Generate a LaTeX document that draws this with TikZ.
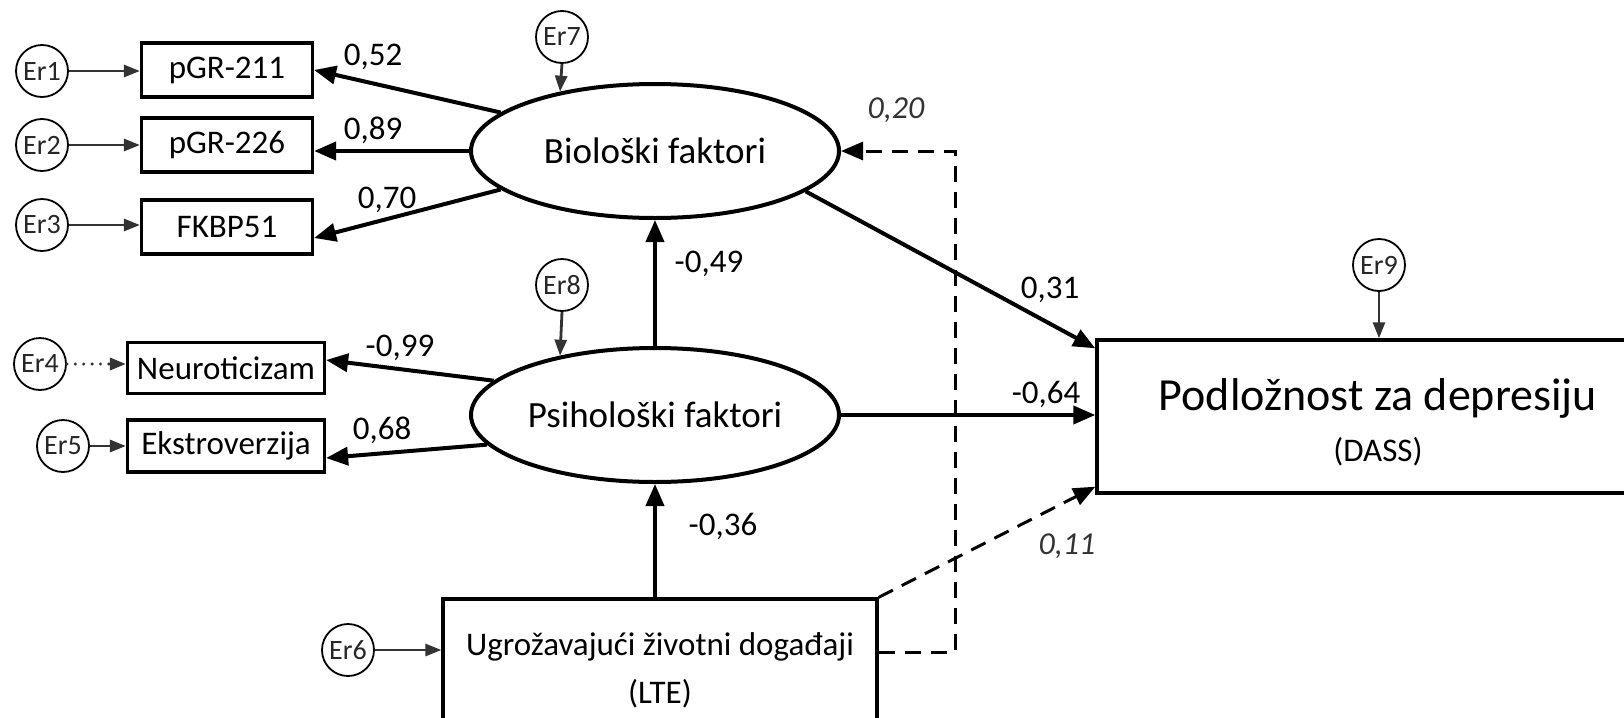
\documentclass[tikz,border=0pt]{standalone}
\usepackage{fontspec}
\setmainfont{Carlito}
\usetikzlibrary{arrows.meta,shapes.geometric}
\begin{document}
\begin{tikzpicture}[x=0.5pt,y=-0.5pt,
  every node/.style={inner sep=0pt},
  box/.style={draw, line width=1.6pt, minimum width=85.5pt, minimum height=27pt, font=\fontsize{16.5}{20}\selectfont},
  lat/.style={draw, ellipse, line width=2pt, minimum width=184pt, minimum height=67pt, font=\fontsize{18.5}{22}\selectfont},
  err/.style={draw, circle, line width=0.9pt, minimum size=26pt, font=\fontsize{14}{16}\selectfont, text=black!85},
  earr/.style={line width=1.4pt, draw=black!80, -{Triangle[length=8pt,width=6pt]}},
  parr/.style={line width=2pt, -{Triangle[length=11pt,width=9pt]}},
  darr/.style={line width=1.5pt, dash pattern=on 8pt off 5pt, -{Triangle[length=11pt,width=9pt]}},
  coef/.style={font=\fontsize{16.5}{20}\selectfont},
  icoef/.style={font=\fontsize{16}{20}\selectfont\itshape, text=black!80},
]
\useasboundingbox (0,0) rectangle (1624,718);
% error terms and indicators
\node[err] (e1) at (42,71) {Er1};
\node[err] (e2) at (42,145) {Er2};
\node[err] (e3) at (42,225) {Er3};
\node[box] (p1) at (227,70) {pGR-211};
\node[box] (p2) at (227,145) {pGR-226};
\node[box] (fk) at (227,227) {FKBP51};
\node[err] (e4) at (40,364) {Er4};
\node[err] (e5) at (63,446) {Er5};
\node[box, minimum width=98.5pt, minimum height=25.5pt] (neu) at (226,368) {Neuroticizam};
\node[box, minimum width=98.5pt, minimum height=26pt] (eks) at (226,446) {Ekstroverzija};
% latent
\node[lat] (bio) at (655,151) {Biološki faktori};
\node[lat] (psi) at (655,415) {Psihološki faktori};
\node[err] (e7) at (562,37) {Er7};
\node[err] (e8) at (562,285) {Er8};
\node[err] (e6) at (348,650) {Er6};
\node[box, minimum width=217pt, minimum height=71pt, align=center, font=\fontsize{16.5}{24}\selectfont] (lte) at (660,670) {Ugrožavajući životni događaji\\(LTE)};
\node[err] (e9) at (1379,265) {Er9};
\node[draw, line width=1.7pt, minimum width=281.5pt, minimum height=76.5pt] (dass) at (1378.5,416.5) {};
\node[font=\fontsize{23}{27}\selectfont] (dasst) at (1378,398) {Podložnost za depresiju};
\node[font=\fontsize{16.5}{20}\selectfont] (dassu) at (1378,452) {(DASS)};
% error arrows
\draw[earr] (e1.east) -- (e1.east -| p1.west);
\draw[earr] (e2.east) -- (e2.east -| p2.west);
\draw[earr] (e3.east) -- (e3.east -| fk.west);
\draw[earr, line width=1.7pt, line cap=round, dash pattern=on 0pt off 4.2pt] (e4.east) -- (e4.east -| neu.west);
\draw[earr] (e5.east) -- (e5.east -| eks.west);
\draw[earr] (e6.east) -- (e6.east -| lte.west);
\draw[earr] (e7.south) -- (bio.148.4);
\draw[earr] (e8.south) -- (psi.148.4);
\draw[earr] (e9.south) -- (e9.south |- dass.north);
% paths
\draw[parr] (bio.166) -- (p1.east);
\draw[parr] (bio.west) -- (bio.west -| p2.east);
\draw[parr] (bio.194) -- ([yshift=-5.5pt]fk.east);
\draw[parr] (psi.168) -- ([yshift=4pt]neu.east);
\draw[parr] (psi.190) -- ([yshift=-6pt]eks.east);
\draw[parr] (psi.north) -- (bio.south);
\draw[parr] (lte.north -| psi.south) -- (psi.south);
\draw[parr] (bio.-15) -- ([yshift=-5pt]dass.north west);
\draw[parr] (psi.east) -- (psi.east -| dass.west);
\draw[darr] (lte.north east) -- ([yshift=4pt]dass.south west);
\coordinate (dc) at (955,151);
\draw[darr] ([yshift=9pt]lte.east) -| (dc) -- (bio.east);
% coefficients
\node[coef] (l1) at (373,57) {0,52};
\node[coef] (l2) at (373,130) {0,89};
\node[coef] (l3) at (387,200) {0,70};
\node[coef] (l4) at (400,348) {-0,99};
\node[coef] (l5) at (382,430) {0,68};
\node[coef] (l6) at (709,264) {-0,49};
\node[coef] (l7) at (723,526) {-0,36};
\node[coef] (l8) at (1050,290) {0,31};
\node[coef] (l9) at (1046,394) {-0,64};
\node[icoef] (l10) at (896,110) {0,20};
\node[icoef] (l11) at (1067,546) {0,11};
\end{tikzpicture}
\end{document}
